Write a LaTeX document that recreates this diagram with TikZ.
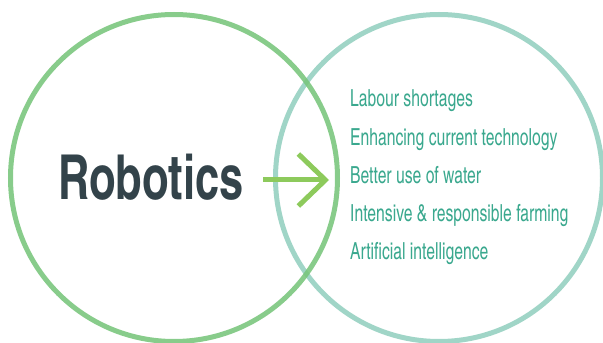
\documentclass[tikz,border=0pt]{standalone}
\usepackage{fontspec}
\setmainfont{TeX Gyre Heros}
\newfontfamily\robofont[FakeStretch=0.855]{TeX Gyre Heros Cn}
\newfontfamily\itemfont[FakeStretch=0.815]{TeX Gyre Heros Cn}
\usepackage{tikz}
\usetikzlibrary{positioning,arrows.meta}

\definecolor{ringgreen}{HTML}{78C57B}
\definecolor{ringteal}{HTML}{93CFBF}
\definecolor{arrowgreen}{HTML}{8DCA5C}
\definecolor{itemteal}{HTML}{3AA88E}
\definecolor{robodark}{HTML}{33434A}

\tikzset{
    ring/.style={line width=5pt, draw opacity=0.88},
    item/.style={inner sep=0pt, text=itemteal, font=\itemfont\fontsize{23.5}{24}\selectfont},
    bigword/.style={inner sep=0pt, anchor=base west, text=robodark, font=\robofont\bfseries\fontsize{62}{62}\selectfont},
    arrowline/.style={line width=5pt, arrowgreen, -{Straight Barb[sharp, length=27pt, width=52pt]}}
}

\begin{document}
\begin{tikzpicture}[x=1pt, y=1pt]
    \useasboundingbox (0,0) rectangle (603,343);

    % Two rings
    \draw[ring, ringteal] (439,165) circle (163.5pt);
    \draw[ring, ringgreen] (174,165) circle (163.5pt);

    % Main word
    \node[bigword] (robotics) at (58,143) {Robotics};

    % List of items
    \node[item, anchor=base west] (labour) at (350,236) {Labour shortages};
    \node[item, below=38.25pt of labour.base west, anchor=base west] (technology) {Enhancing current technology};
    \node[item, below=38.25pt of technology.base west, anchor=base west] (water) {Better use of water};
    \node[item, below=38.25pt of water.base west, anchor=base west] (farming) {Intensive \& responsible farming};
    \node[item, below=38.25pt of farming.base west, anchor=base west] (ai) {Artificial intelligence};

    % Arrow
    \coordinate (arrowstart) at (263,163);
    \coordinate (arrowtip) at (329,163);
    \draw[arrowline] (arrowstart) -- (arrowtip);
\end{tikzpicture}
\end{document}
